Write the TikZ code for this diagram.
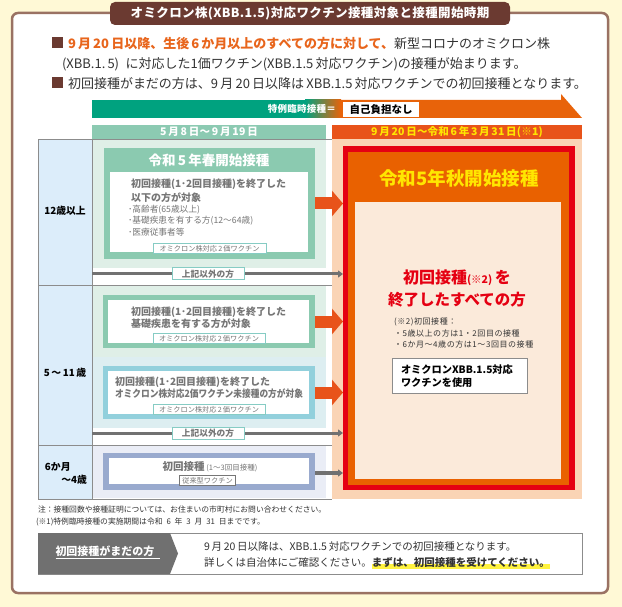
\documentclass[tikz,border=0pt]{standalone}
\usepackage{fontspec}
\usepackage{graphicx}
\setmainfont{Noto Sans CJK JP}
\usetikzlibrary{arrows.meta,calc}
\newcommand\myfs[1]{\fontsize{#1}{#1}\selectfont}
\newcommand\mysp[1]{\addfontfeature{LetterSpace=#1}}
\newcommand\myhl[1]{\setbox0\hbox{#1}\rlap{\color{hl}\rule[-2.5pt]{\wd0}{5pt}}\box0}
\definecolor{cream}{HTML}{FFF9D6}
\definecolor{brownb}{HTML}{9A7263}
\definecolor{tabbrown}{HTML}{6B3A31}
\definecolor{orangetx}{HTML}{E8651C}
\definecolor{bgreen}{HTML}{00A27F}
\definecolor{borange}{HTML}{E8630A}
\definecolor{hgreen}{HTML}{8CCAB2}
\definecolor{lgreen}{HTML}{DFEFE7}
\definecolor{hred}{HTML}{E8531A}
\definecolor{hyellow}{HTML}{FFE600}
\definecolor{peach}{HTML}{FAD4B5}
\definecolor{agebl}{HTML}{DCEDFA}
\definecolor{gridg}{HTML}{8C8C8C}
\definecolor{bigred}{HTML}{E50012}
\definecolor{bigor}{HTML}{E96100}
\definecolor{panel}{HTML}{FBEADA}
\definecolor{boxgreen}{HTML}{8BCAB0}
\definecolor{lblue}{HTML}{DDEEF1}
\definecolor{boxblue}{HTML}{92D0DC}
\definecolor{lav}{HTML}{EAEDF6}
\definecolor{boxlav}{HTML}{99AACE}
\definecolor{graytx}{HTML}{767676}
\definecolor{arrgray}{HTML}{717171}
\definecolor{tealb}{HTML}{86CCC4}
\definecolor{darkbar}{HTML}{707070}
\definecolor{hl}{HTML}{FFF33F}
\definecolor{txt}{HTML}{333333}
\begin{document}
\begin{tikzpicture}[x=1pt,y=-1pt,
  every node/.style={inner sep=0pt,outer sep=0pt},
  bl/.style={anchor=west,text=txt,font=\myfs{13}},
  gtx/.style={anchor=west,text=graytx,font=\bfseries\myfs{10}},
  gsm/.style={anchor=west,text=graytx,font=\myfs{8.7}},
  vlabel/.style={fill=white,draw=tealb,line width=0.8pt,text=graytx,font=\myfs{7.2},inner xsep=3pt,minimum height=10pt},
  otherlab/.style={fill=white,draw=tealb,line width=1pt,text=graytx,font=\bfseries\myfs{8.7},minimum width=72pt,minimum height=12pt},
  oarrow/.style={draw=hred,line width=12pt,-{Triangle[width=25pt,length=11pt]}},
  garrow/.style={draw=arrgray,line width=3pt,-{Triangle[width=7pt,length=5pt]}},
  agetx/.style={text=black,font=\bfseries\myfs{9.8}},
  note/.style={anchor=west,text=txt,font=\myfs{7.8}},
  rnote/.style={anchor=west,text=txt,font=\myfs{8}\mysp{7}}
]
\useasboundingbox (0,0) rectangle (622,607);
\fill[cream] (0,0) rectangle (622,607);
\draw[brownb,line width=2.5pt,fill=white,rounded corners=6pt] (12,13) rectangle (608,593);
% title
\node[fill=tabbrown,rounded corners=5pt,minimum width=400pt,minimum height=23pt,text=white,font=\bfseries\myfs{12.5}\mysp{3}] (title) at (310,13.5) {オミクロン株(XBB.1.5)対応ワクチン接種対象と接種開始時期};
% bullets
\node[fill=tabbrown,minimum width=11pt,minimum height=11pt] (sq1) at (57.5,42.5) {};
\node[bl] (l1) at (68,44) {\textcolor{orangetx}{\bfseries 9\,月\,20\,日以降、生後\,6\,か月以上のすべての方に対して、}新型コロナのオミクロン株};
\node[bl] (l2) at (62,64) {(XBB.1.\,5)\enspace{}に対応した1価ワクチン(XBB.1.5\,対応ワクチン)の接種が始まります。};
\node[fill=tabbrown,minimum width=11pt,minimum height=11pt] (sq2) at (57.5,82.5) {};
\node[bl] (l3) at (68,84) {初回接種がまだの方は、9\,月\,20\,日以降は\,XBB.1.5\,対応ワクチンでの初回接種となります。};
% banner
\fill[bgreen] (92,100) rectangle (306,118);
\shade[left color=bgreen,right color=borange] (305,100) rectangle (341,118);
\fill[borange] (340,100) -- (561,100) -- (561,94) -- (582,118) -- (340,118) -- cycle;
\node[anchor=east,text=white,font=\bfseries\myfs{9.5}\mysp{3}] (ban) at (336,109) {特例臨時接種＝};
\node[fill=white,minimum width=76pt,minimum height=15pt,text=black,font=\bfseries\myfs{10.5}] (free) at (381,109.5) {自己負担なし};
% date headers
\node[fill=hgreen,minimum width=234pt,minimum height=14pt,text=white,font=\bfseries\myfs{10.5}\mysp{4}] (dl) at (209,132) {5\,月\,8\,日～\,9\,月\,19\,日};
\node[fill=hred,minimum width=250pt,minimum height=14pt,text=hyellow,font=\bfseries\myfs{10.5}\mysp{2}] (dr) at (457,132) {9\,月\,20\,日～令和\,6\,年\,3\,月\,31\,日(※1)};
% backgrounds
\fill[lgreen] (92,139) rectangle (326,268);
\fill[lgreen] (92,286) rectangle (326,357);
\fill[lblue] (92,357) rectangle (326,428);
\fill[lav] (92,446) rectangle (326,498);
\fill[peach] (332,139) rectangle (582,499);
% age column
\node[fill=agebl,draw=gridg,line width=0.8pt,minimum width=54pt,minimum height=146pt] (age1) at (65,212) {};
\node[fill=agebl,draw=gridg,line width=0.8pt,minimum width=54pt,minimum height=160pt] (age2) at (65,365) {};
\node[fill=agebl,draw=gridg,line width=0.8pt,minimum width=54pt,minimum height=54pt] (age3) at (65,472) {};
\node[agetx] at (65,211) {12歳以上};
\node[agetx] at (65,373) {5\,～\,11\,歳};
\node[agetx,anchor=west] at (45,467) {6か月};
\node[agetx,anchor=east] at (87,480) {～4歳};
\draw[gridg,line width=0.8pt] (age1.north east) -- (332,139);
\draw[gridg,line width=0.8pt] (age2.north east) -- (332,285);
\draw[gridg,line width=0.8pt] (age3.north east) -- (332,445);
\draw[gridg,line width=0.8pt] (age3.south east) -- (332,499);
% big red box
\node[fill=bigred,minimum width=232pt,minimum height=344pt] (red) at (459,318) {};
\node[fill=bigor,minimum width=221pt,minimum height=333pt] (redin) at (458.5,318.5) {};
\node[fill=panel,minimum width=206pt,minimum height=277pt] (panel) at (458,340.5) {};
\node[text=hyellow,font=\bfseries\myfs{18.5}] (autumn) at (459,178) {令和5年秋開始接種};
\node[text=bigred,font=\bfseries\myfs{16}] (all1) at (457,278) {初回接種{\myfs{10.5}(※2)}\,を};
\node[text=bigred,font=\bfseries\myfs{15.5}] (all2) at (457,300) {終了したすべての方};
\node[rnote] (n1) at (394,322) {(※2)初回接種：};
\node[rnote] (n2) at (394,333.5) {・5歳以上の方は1・2回目の接種};
\node[rnote] (n3) at (394,344.5) {・6か月～4歳の方は1～3回目の接種};
\node[fill=white,draw=gridg,line width=0.8pt,minimum width=135pt,minimum height=35pt] (xbb) at (459.5,375.5) {};
\node[anchor=west,text=black,font=\bfseries\myfs{10.2},align=left] at (401,376) {オミクロンXBB.1.5対応\\[3pt]ワクチンを使用};
% box 1
\node[fill=boxgreen,minimum width=211pt,minimum height=111pt] (b1) at (209.5,203.5) {};
\node[fill=white,minimum width=198pt,minimum height=80pt] (b1w) at (209,212) {};
\node[text=white,font=\bfseries\myfs{13.5}] (b1t) at (209,160) {令和\,5\,年春開始接種};
\node[gtx] at (131,184) {初回接種(1･2回目接種)を終了した};
\node[gtx] at (131,198) {以下の方が対象};
\node[gsm] at (128,210) {･高齢者(65歳以上)};
\node[gsm] at (128,221) {･基礎疾患を有する方(12～64歳)};
\node[gsm] at (128,232) {･医療従事者等};
\node[vlabel,minimum width=113pt] at (209.5,248.5) {オミクロン株対応\,2\,価ワクチン};
% box 2
\node[fill=boxgreen,minimum width=212pt,minimum height=53pt] (b2) at (209,321.5) {};
\node[fill=white,minimum width=201pt,minimum height=43pt] (b2w) at (208.5,321.5) {};
\node[gtx] at (131,312) {初回接種(1･2回目接種)を終了した};
\node[gtx] at (131,324) {基礎疾患を有する方が対象};
\node[vlabel,minimum width=112pt] at (209,338.5) {オミクロン株対応\,2\,価ワクチン};
% box 3
\node[fill=boxblue,minimum width=212pt,minimum height=53pt] (b3) at (209,392.5) {};
\node[fill=white,minimum width=201pt,minimum height=43pt] (b3w) at (208.5,392.5) {};
\node[gtx] at (115,382) {初回接種(1･2回目接種)を終了した};
\node[gtx] at (115,394) {\resizebox{188pt}{\height}{オミクロン株対応2価ワクチン未接種の方が対象}};
\node[vlabel,minimum width=112pt] at (209,409.5) {オミクロン株対応\,2\,価ワクチン};
% box 4
\node[fill=boxlav,minimum width=212pt,minimum height=37pt] (b4) at (209,471.5) {};
\node[fill=white,minimum width=200pt,minimum height=26pt] (b4w) at (209,471) {};
\node[text=graytx,font=\bfseries\myfs{10.5}] at (210,467) {初回接種\,{\mdseries\myfs{7.5}(1～3回目接種)}};
\node[vlabel,draw=graytx,minimum width=49pt] at (207.5,480.5) {従来型ワクチン};
% arrows
\draw[oarrow] (b1.east) -- (b1.east -| red.west);
\draw[oarrow] (b2.east) -- (b2.east -| red.west);
\draw[oarrow] (b3.east) -- (b3.east -| red.west);
\draw[garrow,line width=3.5pt] ($(b4.east)+(0,1.5)$) -- ($(b4.east -| red.west)+(0,1.5)$);
\coordinate (o1) at (92,274);
\coordinate (o2) at (92,433);
\draw[garrow] (o1) -- (o1 -| red.west);
\draw[garrow] (o2) -- (o2 -| red.west);
\node[otherlab] at (208,274) {上記以外の方};
\node[otherlab] at (208,433) {上記以外の方};
% notes
\node[note] at (38,510) {注：接種回数や接種証明については、お住まいの市町村にお問い合わせください。};
\node[note] at (36,522) {(※1)特例臨時接種の実施期間は令和\enspace{}6\enspace{}年\enspace{}3\enspace{}月\enspace{}31\enspace{}日までです。};
% bottom box
\node[fill=white,draw=gridg,line width=0.8pt,minimum width=544pt,minimum height=41pt] (bot) at (310,553.5) {};
\fill[darkbar] (bot.north west) -- (170,533) -- (178,553.5) -- (170,574) -- (bot.south west) -- cycle;
\node[text=white,font=\bfseries\myfs{11}] (unv) at (105,551) {初回接種がまだの方};
\draw[white,line width=0.8pt] (unv.south west) ++(0,2.5) -- ++(104,0);
\node[anchor=west,text=txt,font=\myfs{10.5}] (bt1) at (204,547) {9\,月\,20\,日以降は、XBB.1.5\,対応ワクチンでの初回接種となります。};
\node[anchor=west,text=txt,font=\myfs{10.5}] (bt2) at (204,563) {詳しくは自治体にご確認ください。\myhl{\bfseries まずは、初回接種を受けてください。}};
\end{tikzpicture}
\end{document}
